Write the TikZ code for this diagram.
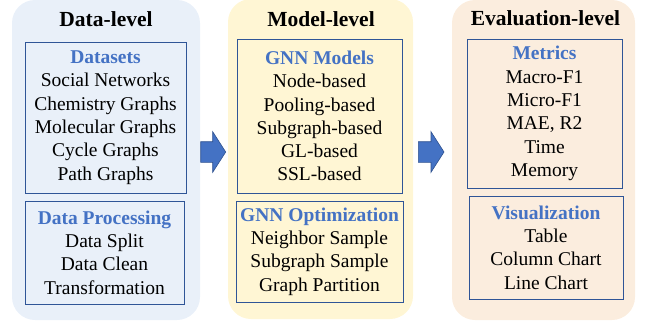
\documentclass[tikz,border=0pt]{standalone}
\usepackage{fontspec}
\setmainfont{Liberation Serif}

\definecolor{databack}{HTML}{E9F0F9}
\definecolor{modelback}{HTML}{FFF6D4}
\definecolor{evalback}{HTML}{FBEDDE}
\definecolor{boxline}{HTML}{2F5597}
\definecolor{headblue}{HTML}{4472C4}
\definecolor{arrowline}{HTML}{2F528F}

\newcommand\hd[1]{\textbf{\textcolor{headblue}{#1}}}

\begin{document}
\begin{tikzpicture}[x=1pt, y=-1pt,
  panel/.style={rounded corners=23pt, minimum height=320pt, inner sep=0pt},
  lvltitle/.style={font=\fontsize{21.5}{24}\selectfont\bfseries, inner sep=0pt},
  grp/.style={draw=boxline, line width=0.8pt, align=center, inner sep=0pt,
    font=\fontsize{19.5}{23.3}\selectfont},
  blkarrow/.style={draw=arrowline, fill=headblue, line width=0.6pt}]

  \newcommand\SH{10.3}  % half shaft
  \newcommand\HE{10}    % head extend

  \useasboundingbox (0,0) rectangle (646,324);

  % the three levels
  \node[panel, fill=databack, minimum width=188pt] (datalvl) at (106,160) {};
  \node[panel, fill=modelback, minimum width=185pt] (modellvl) at (320.5,159) {};
  \node[panel, fill=evalback, minimum width=183pt] (evallvl) at (543.5,160) {};

  \node[lvltitle] (datattl) at (106,19.5) {Data-level};
  \node[lvltitle] (modelttl) at (321,19.5) {Model-level};
  \node[lvltitle] (evalttl) at (545.5,18.5) {Evaluation-level};

  % data-level
  \node[grp, minimum width=161pt, minimum height=151pt] (dsets) at (105.5,117.5)
  {\hd{Datasets}\\Social Networks\\Chemistry Graphs\\Molecular Graphs\\Cycle Graphs\\Path Graphs};
  \node[grp, minimum width=159pt, minimum height=103pt] (dproc) at (104.5,252.5)
  {\hd{Data Processing}\\Data Split\\Data Clean\\Transformation};

  % model-level
  \node[grp, minimum width=165pt, minimum height=154pt] (gnnmod) at (319.5,116)
  {\hd{GNN Models}\\Node-based\\Pooling-based\\Subgraph-based\\GL-based\\SSL-based};
  \node[grp, minimum width=167pt, minimum height=101pt] (gnnopt) at (319.5,251.5)
  {\hd{GNN Optimization}\\Neighbor Sample\\Subgraph Sample\\Graph Partition};

  % evaluation-level
  \node[grp, minimum width=155pt, minimum height=149pt] (metr) at (544.5,113.5)
  {\hd{Metrics}\\Macro-F1\\Micro-F1\\MAE, R2\\Time\\Memory};
  \node[grp, minimum width=154pt, minimum height=103pt] (visu) at (546,247.5)
  {\hd{Visualization}\\Table\\Column Chart\\Line Chart};

  % block arrows between the levels
  \coordinate (arrA) at (200.7,152);
  \coordinate (arrB) at (418.3,152);
  \foreach \a/\s in {arrA/12, arrB/12.7}{
    \draw[blkarrow] (\a) ++(0,-\SH) -- ++(\s,0) -- ++(0,-\HE)
    -- ++(13,\SH+\HE) -- ++(-13,\SH+\HE) -- ++(0,-\HE) -- ++(-\s,0) -- cycle;
  }

\end{tikzpicture}
\end{document}
